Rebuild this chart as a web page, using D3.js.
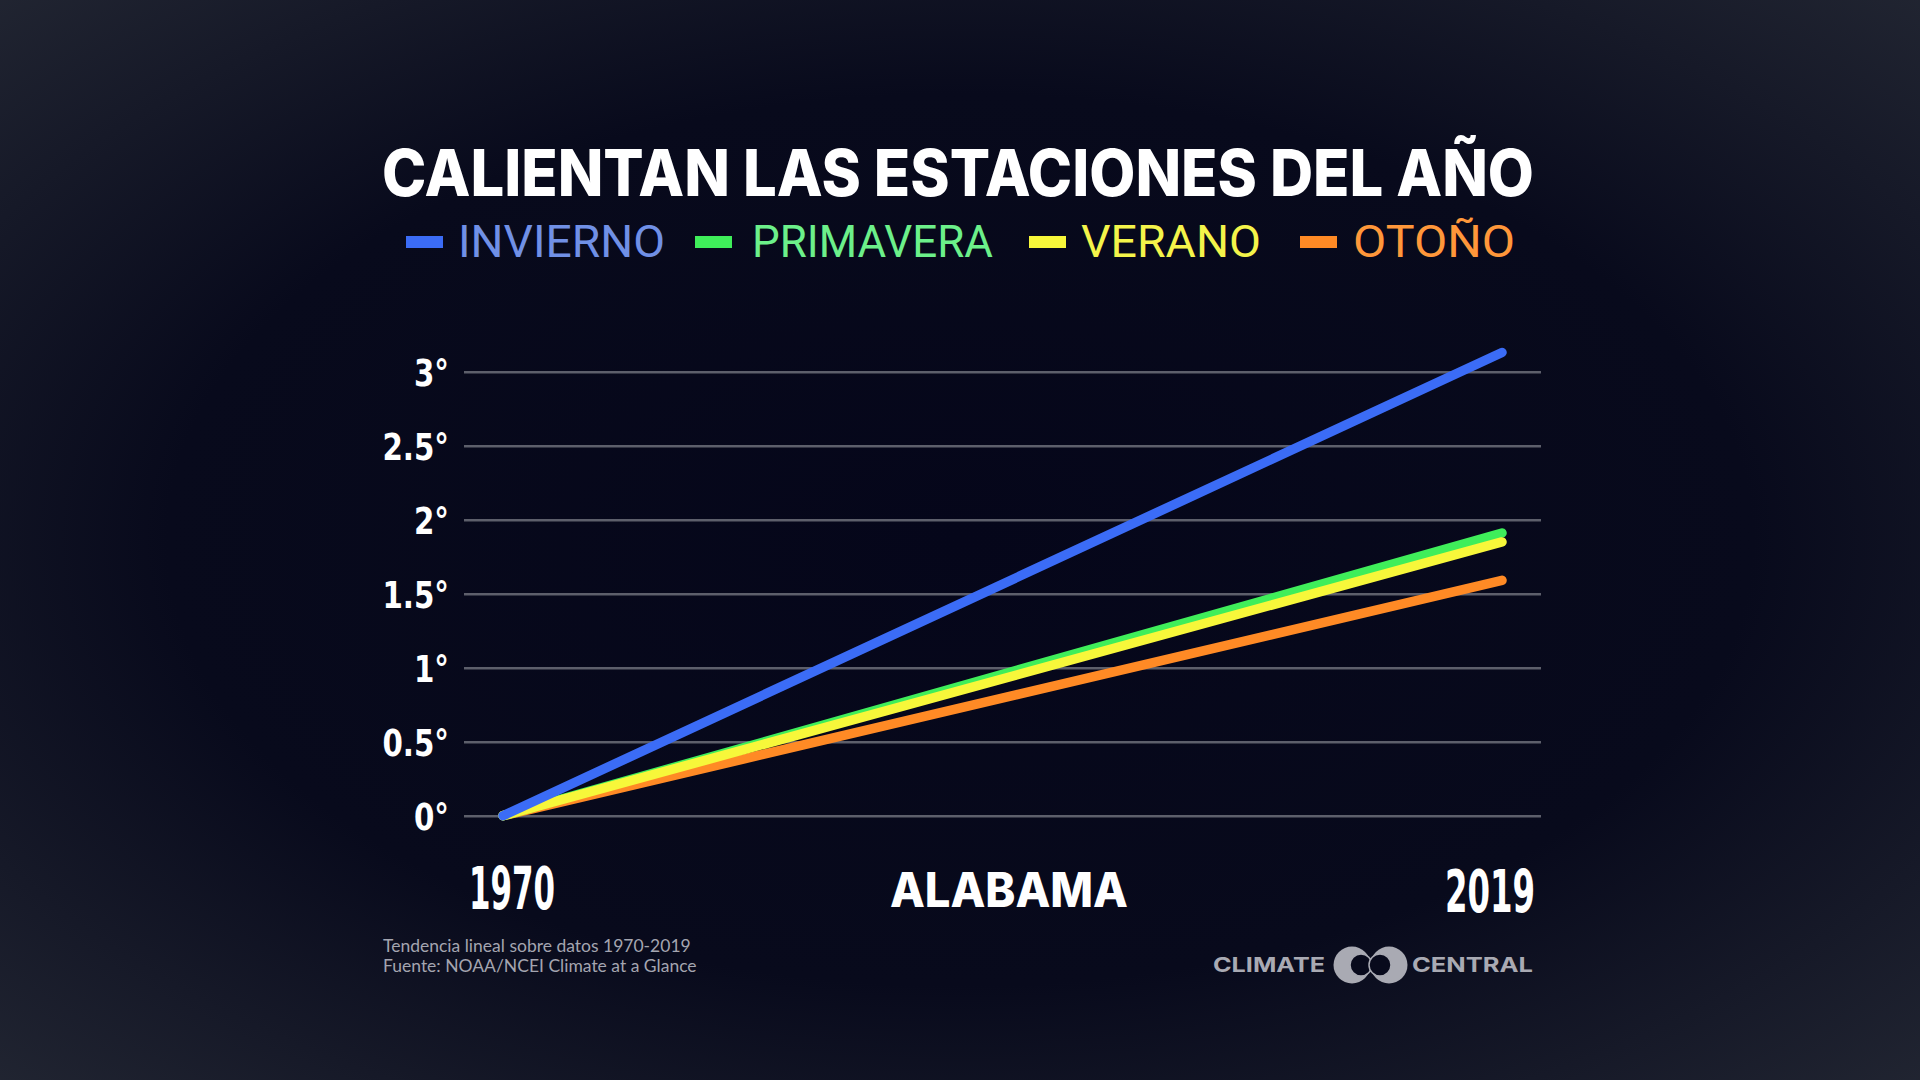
<!DOCTYPE html>
<html>
<head>
<meta charset="utf-8">
<script src="https://cdn.jsdelivr.net/npm/d3@7"></script>
<style>
  html, body { margin: 0; padding: 0; background: #07081a; }
  svg { display: block; }
</style>
</head>
<body>
<div id="chart"></div>
<script>
// Data
const years = [1970, 2019];
const invierno = [0, 3.13];
const primavera = [0, 1.91];
const verano = [0, 1.85];
const otono = [0, 1.59];
const yTicks = [0, 0.5, 1, 1.5, 2, 2.5, 3];

const seriesNames = ["INVIERNO", "PRIMAVERA", "VERANO", "OTOÑO"];
const seriesValues = [invierno, primavera, verano, otono];
const lineColors = ["#3b6cf6", "#3fee5a", "#f7f73a", "#ff8a25"];
const textColors = ["#7090e6", "#6cf08a", "#f4f44a", "#ff973a"];

const width = 1920;
const height = 1080;

const svg = d3
  .select("#chart")
  .append("svg")
  .attr("width", width)
  .attr("height", height);

// Background with a soft vignette
const defs = svg.append("defs");
const bg = defs
  .append("radialGradient")
  .attr("id", "bg")
  .attr("cx", "50%")
  .attr("cy", "50%")
  .attr("r", "75%");
bg.append("stop").attr("offset", "0%").attr("stop-color", "#05061a");
bg.append("stop").attr("offset", "55%").attr("stop-color", "#080a1c");
bg.append("stop").attr("offset", "100%").attr("stop-color", "#242834");

svg
  .append("rect")
  .attr("width", width)
  .attr("height", height)
  .attr("fill", "url(#bg)");

// Scales
const x = d3.scaleLinear().domain([1970, 2019]).range([503, 1502]);
const y = d3.scaleLinear().domain([0, 3]).range([815.7, 371.7]);

// Title
svg
  .append("text")
  .attr("x", 958)
  .attr("y", 196)
  .attr("text-anchor", "middle")
  .attr("font-family", "Inter, 'Open Sans', sans-serif")
  .attr("font-weight", 800)
  .attr("font-size", "64px")
  .attr("fill", "#ffffff")
  .attr("textLength", 1152)
  .attr("lengthAdjust", "spacingAndGlyphs")
  .text("CALIENTAN LAS ESTACIONES DEL AÑO");

// Legend
const legendRectX = [406, 695, 1029, 1300];
const legendTextX = [458, 752, 1081, 1353];
const legendTextW = [207, 241, 180, 162];

const legend = svg.append("g").attr("class", "legend");
seriesNames.forEach((name, i) => {
  legend
    .append("rect")
    .attr("x", legendRectX[i])
    .attr("y", 236)
    .attr("width", 37)
    .attr("height", 12)
    .attr("fill", lineColors[i]);
  legend
    .append("text")
    .attr("x", legendTextX[i])
    .attr("y", 257)
    .attr("font-family", "Roboto, 'Open Sans', sans-serif")
    .attr("font-weight", 400)
    .attr("font-size", "45px")
    .attr("fill", textColors[i])
    .attr("textLength", legendTextW[i])
    .attr("lengthAdjust", "spacingAndGlyphs")
    .text(name);
});

// Grid lines
const yAxis = d3
  .axisLeft(y)
  .tickValues(yTicks)
  .tickSize(-(1541 - 464))
  .tickFormat((d) => d + "°");

const axisG = svg
  .append("g")
  .attr("class", "y-axis")
  .attr("transform", "translate(464,0)")
  .call(yAxis);

axisG.select(".domain").remove();
axisG
  .selectAll(".tick line")
  .attr("stroke", "#5d5f6b")
  .attr("stroke-width", 2.5);

// condensed look: squeeze the labels horizontally
const squeeze = 0.88;
axisG
  .selectAll(".tick text")
  .attr("x", -15 / squeeze)
  .attr("dy", "0.36em")
  .attr("transform", `scale(${squeeze},1)`)
  .attr("fill", "#ffffff")
  .attr("font-family", "'DejaVu Sans Condensed', 'DejaVu Sans', sans-serif")
  .attr("font-weight", "bold")
  .attr("font-size", "37px");

// Trend lines (orange at the back, blue on top)
const line = d3
  .line()
  .x((d, i) => x(years[i]))
  .y((d) => y(d));

const drawOrder = [3, 1, 2, 0];
drawOrder.forEach((i) => {
  svg
    .append("path")
    .datum(seriesValues[i])
    .attr("d", line)
    .attr("fill", "none")
    .attr("stroke", lineColors[i])
    .attr("stroke-width", 9.5)
    .attr("stroke-linecap", "round");
});

// Bottom labels
const yearFont = "'Liberation Sans Narrow', 'DejaVu Sans Condensed', sans-serif";
svg
  .append("text")
  .attr("x", 469)
  .attr("y", 909)
  .attr("font-family", yearFont)
  .attr("font-weight", "bold")
  .attr("font-size", "58px")
  .attr("fill", "#ffffff")
  .attr("textLength", 86)
  .attr("lengthAdjust", "spacingAndGlyphs")
  .text(years[0]);

svg
  .append("text")
  .attr("x", 1445)
  .attr("y", 912)
  .attr("font-family", yearFont)
  .attr("font-weight", "bold")
  .attr("font-size", "58px")
  .attr("fill", "#ffffff")
  .attr("textLength", 90)
  .attr("lengthAdjust", "spacingAndGlyphs")
  .text(years[1]);

svg
  .append("text")
  .attr("x", 1009)
  .attr("y", 907)
  .attr("text-anchor", "middle")
  .attr("font-family", "Inter, 'Open Sans', sans-serif")
  .attr("font-weight", 800)
  .attr("font-size", "48px")
  .attr("fill", "#ffffff")
  .attr("textLength", 238)
  .attr("lengthAdjust", "spacingAndGlyphs")
  .text("ALABAMA");

// Footnote
const notes = [
  "Tendencia lineal sobre datos 1970-2019",
  "Fuente: NOAA/NCEI Climate at a Glance",
];
notes.forEach((t, i) => {
  svg
    .append("text")
    .attr("x", 383)
    .attr("y", 952 + i * 20)
    .attr("font-family", "Lato, sans-serif")
    .attr("font-size", "17.5px")
    .attr("fill", "#a4a5b0")
    .text(t);
});

// Climate Central logo
const logo = svg.append("g").attr("fill", "#a9aab3");
logo
  .append("text")
  .attr("x", 1213)
  .attr("y", 972)
  .attr("font-family", "Inter, sans-serif")
  .attr("font-weight", 700)
  .attr("font-size", "20px")
  .attr("textLength", 112)
  .attr("lengthAdjust", "spacingAndGlyphs")
  .text("CLIMATE");
logo
  .append("text")
  .attr("x", 1412)
  .attr("y", 972)
  .attr("font-family", "Inter, sans-serif")
  .attr("font-weight", 700)
  .attr("font-size", "20px")
  .attr("textLength", 121)
  .attr("lengthAdjust", "spacingAndGlyphs")
  .text("CENTRAL");

[1352, 1389].forEach((cx) => {
  logo.append("circle").attr("cx", cx).attr("cy", 965).attr("r", 18.5);
});
[1361, 1380].forEach((cx) => {
  logo
    .append("circle")
    .attr("cx", cx)
    .attr("cy", 965)
    .attr("r", 11)
    .attr("fill", "#080a1c")
    .attr("stroke", "#a9aab3")
    .attr("stroke-width", 1.5);
});
</script>
</body>
</html>
